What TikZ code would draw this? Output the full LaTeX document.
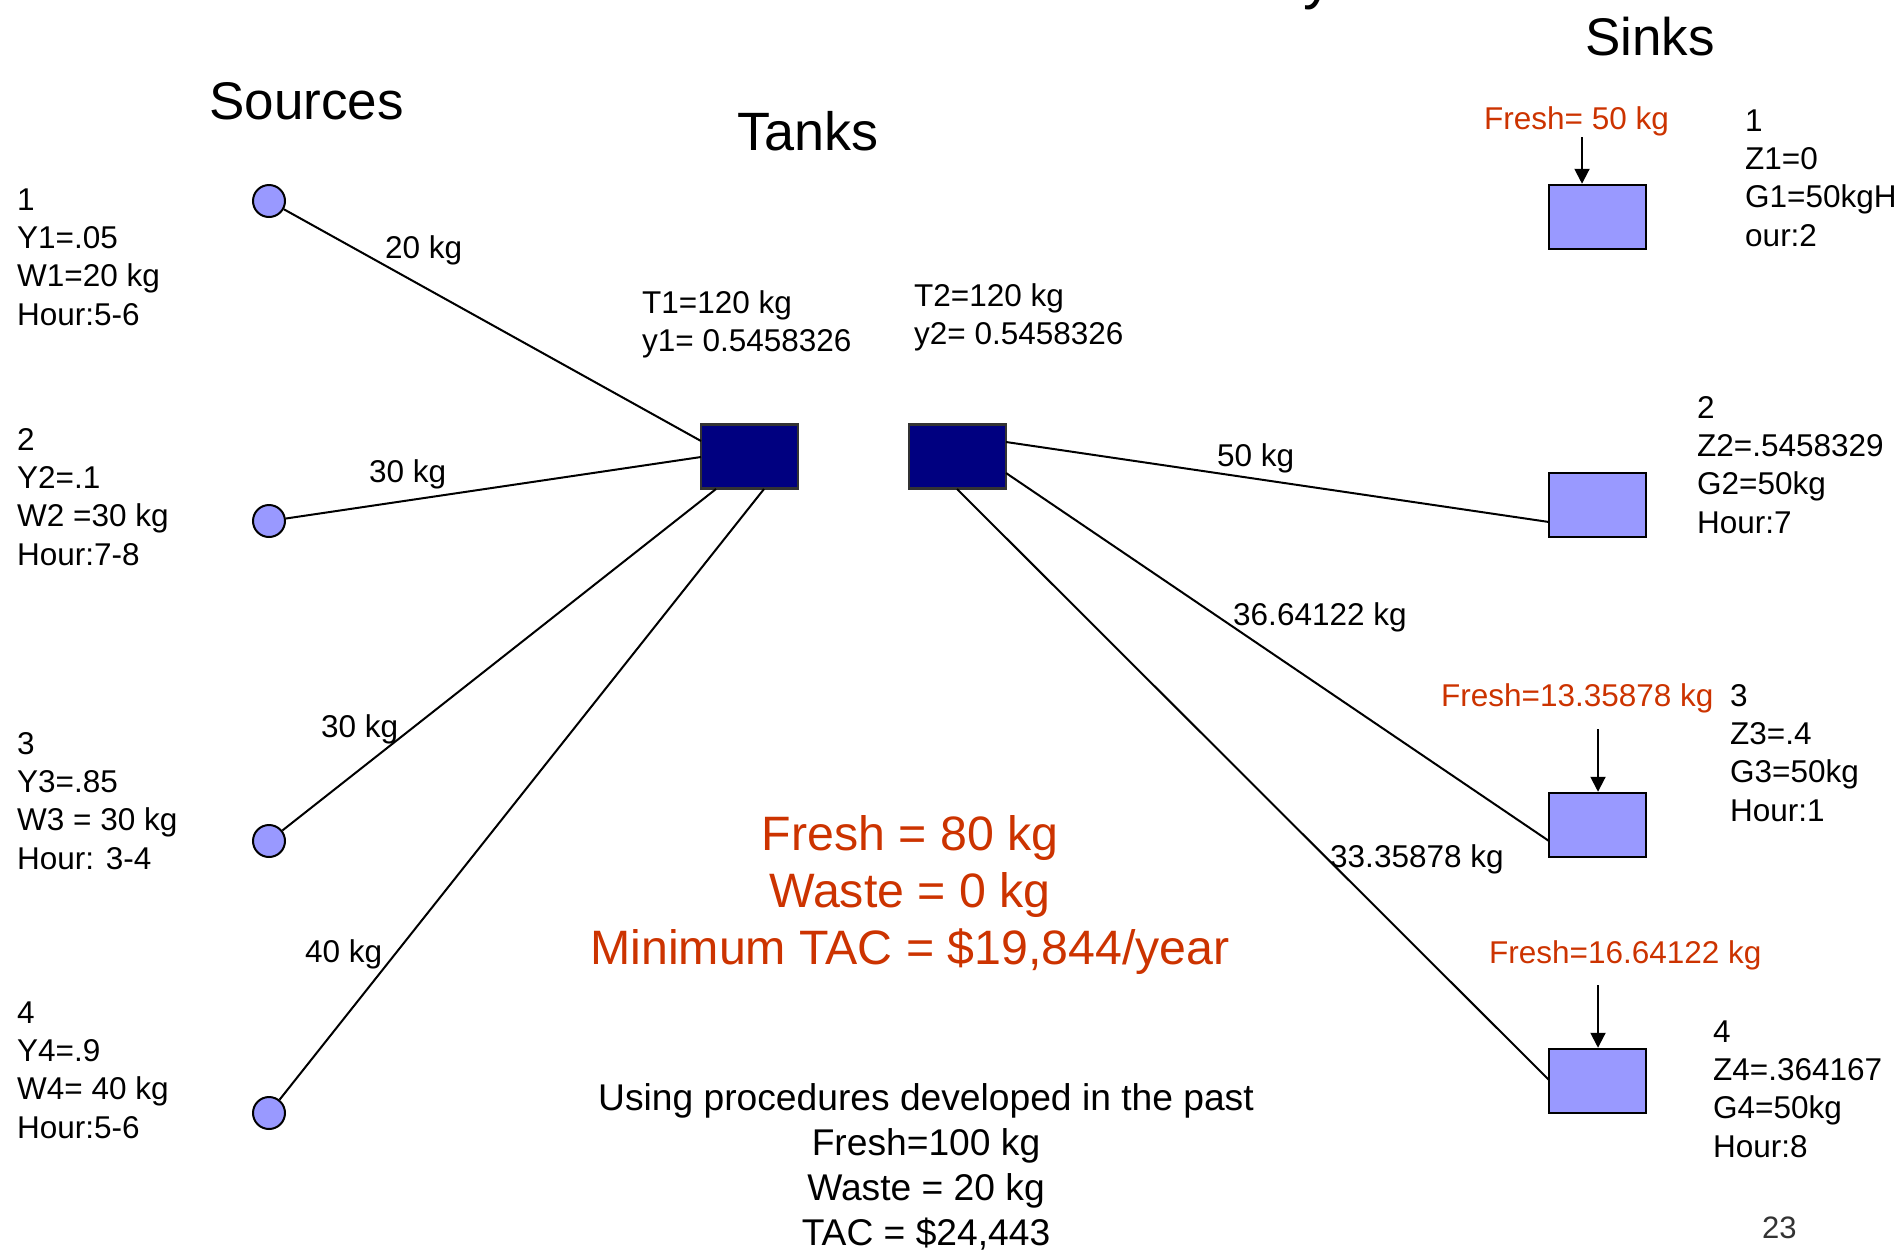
\documentclass[tikz,border=0pt]{standalone}
\usepackage{fontspec}
\setmainfont{Liberation Sans}
\usetikzlibrary{arrows.meta}
\definecolor{srcblue}{RGB}{153,153,255}
\definecolor{tanknavy}{RGB}{0,0,128}
\definecolor{freshred}{RGB}{204,51,0}
\newcommand\fourl[4]{\vtop{\hbox{#1}\hbox{#2}\hbox{#3}\hbox{#4}}}
\newcommand\twol[2]{\vtop{\hbox{#1}\hbox{#2}}}
\begin{document}
\begin{tikzpicture}[x=1pt,y=-1pt,
  txt/.style={inner sep=0pt, anchor=base west, font=\fontsize{31.5}{38.4}\selectfont},
  head/.style={inner sep=0pt, anchor=base west, font=\fontsize{53}{60}\selectfont},
  src/.style={circle, draw=black, line width=2pt, fill=srcblue, minimum size=32pt, inner sep=0pt},
  tank/.style={rectangle, draw=black!80, line width=2.5pt, fill=tanknavy, minimum width=97pt, minimum height=64pt, inner sep=0pt},
  sink/.style={rectangle, draw=black, line width=2.5pt, fill=srcblue, minimum width=97pt, minimum height=64pt, inner sep=0pt},
  flow/.style={line width=2pt},
  feed/.style={line width=2pt, -{Triangle[width=15pt,length=15pt]}},
]
\useasboundingbox (0,0) rectangle (1903,1251);
\begin{scope}
\clip (0,0) rectangle (1903,1251);
\node[inner sep=0pt, anchor=base west, font=\fontsize{60}{70}\selectfont] (ttl) at (1303,-2.6) {y};
\end{scope}

% headings
\node[head] (hsrc) at (209,119) {Sources};
\node[head, font=\fontsize{54}{60}\selectfont] (htank) at (737,150) {Tanks};
\node[head] (hsink) at (1585,55) {Sinks};

% sources
\node[src] (s1) at (269,201) {};
\node[src] (s2) at (269,521) {};
\node[src] (s3) at (269,841) {};
\node[src] (s4) at (269,1113) {};
\node[txt] (ls1) at (17,210) {\fourl{1}{Y1=.05}{W1=20 kg}{Hour:5-6}};
\node[txt] (ls2) at (17,450) {\fourl{2}{Y2=.1}{W2 =30 kg}{Hour:7-8}};
\node[txt] (ls3) at (17,754) {\fourl{3}{Y3=.85}{W3 = 30 kg}{Hour: 3-4}};
\node[txt] (ls4) at (17,1023) {\fourl{4}{Y4=.9}{W4= 40 kg}{Hour:5-6}};

% tanks
\node[tank] (t1) at (749.5,456.5) {};
\node[tank] (t2) at (957.5,456.5) {};
\node[txt] (lt1) at (642,313) {\twol{T1=120 kg}{y1= 0.5458326}};
\node[txt] (lt2) at (914,306) {\twol{T2=120 kg}{y2= 0.5458326}};

% sinks
\node[sink] (k1) at (1597.5,217) {};
\node[sink] (k2) at (1597.5,505) {};
\node[sink] (k3) at (1597.5,825) {};
\node[sink] (k4) at (1597.5,1081) {};
\node[txt] (lk1) at (1745,131) {\fourl{1}{Z1=0}{G1=50kgH}{our:2}};
\node[txt] (lk2) at (1697,418) {\fourl{2}{Z2=.5458329}{G2=50kg}{Hour:7}};
\node[txt] (lk3) at (1730,706) {\fourl{3}{Z3=.4}{G3=50kg}{Hour:1}};
\node[txt] (lk4) at (1713,1042) {\fourl{4}{Z4=.364167}{G4=50kg}{Hour:8}};

% connector end points
\coordinate (t1a) at (701,441);
\coordinate (t1b) at (701,457);
\coordinate (t1c) at (716,489);
\coordinate (t1d) at (764,489);
\coordinate (t2a) at (1006,442);
\coordinate (t2b) at (1006,473);
\coordinate (t2c) at (957,489);
\coordinate (k2a) at (1549,522);
\coordinate (k3a) at (1549,841);
\coordinate (k4a) at (1549,1080);
\coordinate (f1) at (1582,137);
\coordinate (f3) at (1598,729);
\coordinate (f4) at (1598,985);

\draw[flow] (s1) -- (t1a);
\draw[flow] (s2) -- (t1b);
\draw[flow] (s3) -- (t1c);
\draw[flow] (s4) -- (t1d);
\draw[flow] (t2a) -- (k2a);
\draw[flow] (t2b) -- (k3a);
\draw[flow] (t2c) -- (k4a);
\draw[feed] (f1) -- (f1 |- k1.north);
\draw[feed] (f3) -- (f3 |- k3.north);
\draw[feed] (f4) -- (f4 |- k4.north);

% flow labels
\node[txt] (e1) at (385,258) {20 kg};
\node[txt] (e2) at (369,482) {30 kg};
\node[txt] (e3) at (321,737) {30 kg};
\node[txt] (e4) at (305,962) {40 kg};
\node[txt] (e5) at (1217,466) {50 kg};
\node[txt] (e6) at (1233,625) {36.64122 kg};
\node[txt] (e7) at (1330,867) {33.35878 kg};

% fresh labels
\node[txt, text=freshred] (fr1) at (1484,129) {Fresh= 50 kg};
\node[txt, text=freshred] (fr3) at (1441,706) {Fresh=13.35878 kg};
\node[txt, text=freshred] (fr4) at (1489,963) {Fresh=16.64122 kg};

% summary
\node[inner sep=0pt, anchor=base, text=freshred, font=\fontsize{48.3}{57}\selectfont] (sum) at (910,850)
  {\vtop{\halign{\hfil#\hfil\cr Fresh = 80 kg\cr Waste = 0 kg\cr Minimum TAC = \$19,844/year\cr}}};
\node[inner sep=0pt, anchor=base, font=\fontsize{37.2}{45}\selectfont] (past) at (926,1110)
  {\vtop{\halign{\hfil#\hfil\cr Using procedures developed in the past\cr Fresh=100 kg\cr Waste = 20 kg\cr TAC = \$24,443\cr}}};

\node[inner sep=0pt, anchor=base west, text=black!80, font=\fontsize{31}{36}\selectfont] (pg) at (1762,1238) {23};
\end{tikzpicture}
\end{document}
